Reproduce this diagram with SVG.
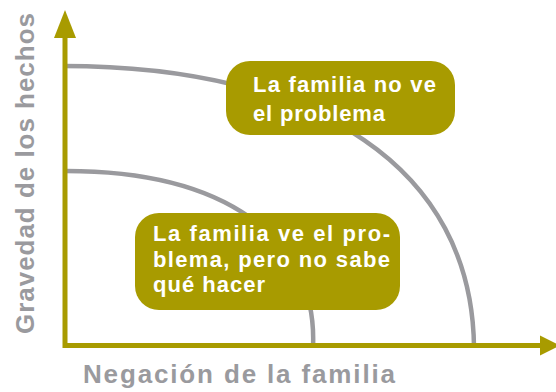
<svg xmlns="http://www.w3.org/2000/svg" width="556" height="392" viewBox="0 0 556 392">
  <style>
    .axis { stroke: #A89B00; stroke-width: 5; fill: none; }
    .head { fill: #A89B00; }
    .arc { stroke: #9A9A9E; stroke-width: 4.5; fill: none; }
    .box { fill: #A89B00; }
    .btxt { font-family: "Liberation Sans", Arial, sans-serif; font-weight: bold; font-size: 22px; fill: #FFFFFF; }
    .lbl { font-family: "Liberation Sans", Arial, sans-serif; font-weight: bold; font-size: 26px; fill: #9A9A9E; }
  </style>
  <rect width="556" height="392" fill="#FFFFFF"/>
  <g id="connectors">
    <path class="arc" d="M63,66 C320,66 472,170 474,347"/>
    <path class="arc" d="M66,171 C222,171 318,236 313,347"/>
  </g>
  <g id="axes">
    <path class="axis" d="M65,36 L65,345.5 L542,345.5"/>
    <polygon class="head" points="65,10 54,38 76,38"/>
    <polygon class="head" points="560,345.5 540,335.5 540,355.5"/>
  </g>
  <g id="label-y">
    <text class="lbl" transform="translate(34,334) rotate(-90)" x="0" y="0" textLength="321" lengthAdjust="spacing">Gravedad de los hechos</text>
  </g>
  <g id="label-x">
    <text class="lbl" x="83" y="383" textLength="312" lengthAdjust="spacing">Negación de la familia</text>
  </g>
  <g id="node-no-ve">
    <rect class="box" x="226" y="61" width="229" height="74" rx="24" ry="24"/>
    <text class="btxt" x="253" y="92" textLength="183" lengthAdjust="spacing">La familia no ve</text>
    <text class="btxt" x="253" y="121" textLength="132" lengthAdjust="spacing">el problema</text>
  </g>
  <g id="node-ve">
    <rect class="box" x="135" y="213" width="265" height="97" rx="24" ry="24"/>
    <text class="btxt" x="153" y="241" textLength="237" lengthAdjust="spacing">La familia ve el pro-</text>
    <text class="btxt" x="153" y="267" textLength="237" lengthAdjust="spacing">blema, pero no sabe</text>
    <text class="btxt" x="153" y="292" textLength="112" lengthAdjust="spacing">qué hacer</text>
  </g>
</svg>
